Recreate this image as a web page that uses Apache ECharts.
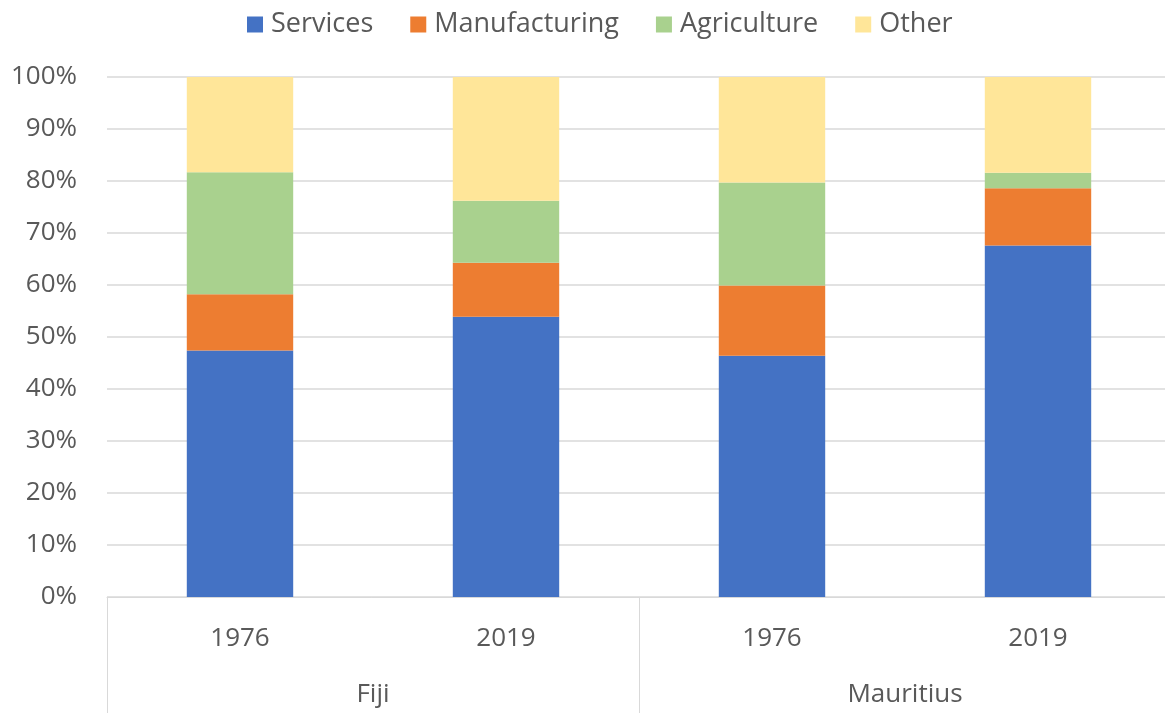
<!DOCTYPE html>
<html><head><meta charset="utf-8">
<script src="https://cdn.jsdelivr.net/npm/echarts@6/dist/echarts.min.js"></script>
<style>html,body{margin:0;padding:0;background:#fff}#c{width:1165px;height:713px}</style>
</head><body><div id="c"></div>
<script>
const years = ["1976", "2019", "1976", "2019"];
const countries = ["Fiji", "Mauritius"];
const services = [47.4, 53.9, 46.4, 67.6];
const manufacturing = [10.8, 10.4, 13.5, 11.0];
const agriculture = [23.5, 11.9, 19.8, 3.0];
const other = [18.3, 23.8, 20.3, 18.4];
const yTicks = [0, 10, 20, 30, 40, 50, 60, 70, 80, 90, 100];

const font = "Open Sans";
const chart = echarts.init(document.getElementById('c'));
function s(name, data, color) {
  return { name, type: 'bar', stack: 'a', data, barWidth: '40%', itemStyle: { color }, xAxisIndex: 0 };
}
chart.setOption({
  animation: false,
  textStyle: { fontFamily: font },
  legend: {
    top: 6, left: 242, itemWidth: 16, itemHeight: 16, itemGap: 37, icon: 'rect',
    textStyle: { fontSize: 27, color: '#595959', fontFamily: font, padding: [0, 0, 0, 3] },
    data: ['Services', 'Manufacturing', 'Agriculture', 'Other']
  },
  grid: { left: 107, width: 1064, top: 77, bottom: 116, containLabel: false, outerBoundsMode: 'none' },
  xAxis: [
    { type: 'category', data: years, position: 'bottom',
      axisLine: { lineStyle: { color: '#d9d9d9', width: 1 } },
      axisTick: { show: false },
      axisLabel: { fontSize: 26, color: '#595959', margin: 29, fontFamily: font } },
    { type: 'category', data: countries, position: 'bottom',
      axisLine: { show: false },
      axisTick: { show: true, length: 120, lineStyle: { color: '#d9d9d9' } },
      axisLabel: { fontSize: 26, color: '#595959', margin: 85, fontFamily: font } }
  ],
  yAxis: {
    type: 'value', min: 0, max: 100, interval: 10,
    axisLine: { show: false }, axisTick: { show: false },
    splitLine: { lineStyle: { color: '#d9d9d9', width: 1.5 } },
    axisLabel: { fontSize: 26, color: '#595959', margin: 30, fontFamily: font,
      formatter: v => yTicks.includes(v) ? v + '%' : '' }
  },
  series: [
    s('Services', services, '#4472c4'),
    s('Manufacturing', manufacturing, '#ed7d31'),
    s('Agriculture', agriculture, '#a9d18e'),
    s('Other', other, '#ffe699')
  ]
});
</script></body></html>
